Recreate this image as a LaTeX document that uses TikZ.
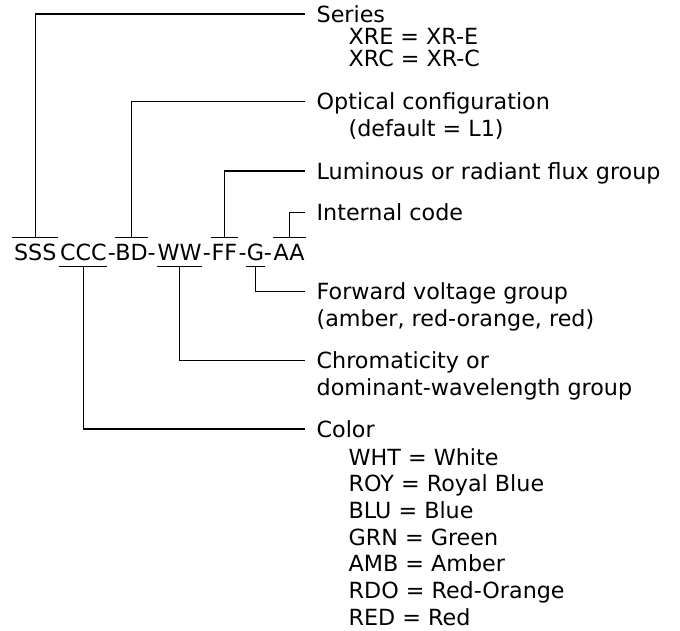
\documentclass[tikz,border=0pt]{standalone}
\usepackage{fontspec}
\setmainfont{DejaVu Sans}
\usetikzlibrary{positioning}

\tikzset{
    part/.style={inner xsep=0pt, inner ysep=5.7pt, text height=16.2pt, text depth=0pt, minimum width=#1, anchor=base},
    hyph/.style={inner sep=0pt, anchor=base},
    lbl/.style={inner xsep=11pt, inner ysep=0pt, text height=16.2pt, text depth=0pt, anchor=west},
    sublist/.style={inner sep=0pt, align=left, anchor=base west},
}

\begin{document}
\begin{tikzpicture}[x=1pt, y=-1pt, font=\fontsize{22.25}{26.7}\selectfont, line width=1.3pt]
        \useasboundingbox (0,0) rectangle (680,631);

        % the part number
        \node[part=44.4pt] (sss) at (35.2, 260) {SSS};
        \node[part=46.7pt] (ccc) at (83.35, 260) {CCC};
        \node[hyph] (h1) at (111.85, 260) {-};
        \node[part=29pt] (bd) at (131.5, 260) {BD};
        \node[hyph] (h2) at (151.65, 260) {-};
        \node[part=44.4pt] (ww) at (179.5, 260) {WW};
        \node[hyph] (h3) at (206.85, 260) {-};
        \node[part=25pt] (ff) at (224.5, 260) {FF};
        \node[hyph] (h4) at (242.65, 260) {-};
        \node[part=14.4pt] (g) at (255.5, 260) {G};
        \node[hyph] (h5) at (268, 260) {-};
        \node[part=31.7pt] (aa) at (289.2, 260) {AA};

        % labels (a list node sits on the base of its last line)
        \node[lbl] (series) at (305, 14) {Series};
        \node[sublist, font=\fontsize{22.25}{21.5}\selectfont] (serieslist) at (348, 66.5) {XRE = XR-E\\XRC = XR-C};
        \node[lbl] (optical) at (305, 101.7) {Optical configuration};
        \node[sublist] (opticallist) at (348, 136.7) {(default = L1)};
        \node[lbl] (flux) at (305, 171) {Luminous or radiant flux group};
        \node[lbl] (internal) at (305, 212.3) {Internal code};
        \node[lbl] (fwd) at (305, 291.7) {Forward voltage group};
        \node[sublist] (fwdmore) at (316, 326.7) {(amber, red-orange, red)};
        \node[lbl] (chrom) at (305, 360.7) {Chromaticity or};
        \node[sublist] (chrommore) at (316, 395) {dominant-wavelength group};
        \node[lbl] (color) at (305, 429) {Color};
        \node[sublist] (colorlist) at (348, 625.2) {WHT = White\\ROY = Royal Blue\\BLU = Blue\\GRN = Green\\AMB = Amber\\RDO = Red-Orange\\RED = Red};

        % bars over and under the groups
        \draw (sss.north west) -- (sss.north east);
        \draw (bd.north west) -- (bd.north east);
        \draw (ff.north west) -- (ff.north east);
        \draw (aa.north west) -- (aa.north east);
        \draw (ccc.south west) -- (ccc.south east);
        \draw (ww.south west) -- (ww.south east);
        \draw (g.south west) -- (g.south east);

        % leaders
        \draw (sss.north) |- (series.west);
        \draw (bd.north) |- (optical.west);
        \draw (ff.north) |- (flux.west);
        \draw (aa.north) |- (internal.west);
        \draw (g.south) |- (fwd.west);
        \draw (ww.south) |- (chrom.west);
        \draw (ccc.south) |- (color.west);

    \end{tikzpicture}
\end{document}
